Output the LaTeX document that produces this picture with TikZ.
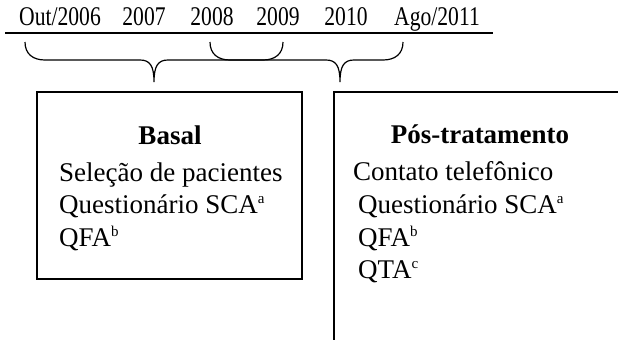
\documentclass[tikz,border=0pt]{standalone}
\usepackage{fontspec}
\setmainfont{Liberation Serif}
\newfontfamily\yearFont[FakeStretch=0.8]{Liberation Serif}
\usetikzlibrary{positioning}
\newcommand{\yearLabel}[3]{%%
  \node[yearStyle] (#1) at (#2,25) {#3};
}
\newcommand{\myBrace}[3]{%%
  %% Draw one curly brace under the time line.
  \draw[lineStyle] (#1,42) .. controls (#1,54) and (#1+8,60) .. (#1+20,60)
    -- (#2-14,60) .. controls (#2-4,60) and (#2,66) .. (#2,82)
    .. controls (#2,66) and (#2+4,60) .. (#2+14,60)
    -- (#3-20,60) .. controls (#3-8,60) and (#3,54) .. (#3,42);
}
\newcommand{\itemLine}[4]{%%
  \node[itemStyle] (#1) at (#2,#3) {#4};
}
\newcommand{\noteMark}[1]{%%
  \raisebox{10pt}{\fontsize{15}{15}\selectfont #1}%%
}

\begin{document}
\begin{tikzpicture}[x=1pt,y=-1pt,%%
  lineStyle/.style={-,line width=1.2pt,black},%%
  yearStyle/.style={anchor=base,inner sep=0pt,font=\fontsize{27}{30}\yearFont},%%
  itemStyle/.style={anchor=base west,inner sep=0pt,font=\fontsize{27}{30}\selectfont},%%
  titleStyle/.style={anchor=base,inner sep=0pt,font=\fontsize{27}{30}\selectfont\bfseries}
]
\useasboundingbox (0,0) rectangle (618,340);
%%
%% The time line with its years.
\coordinate (lineStart) at (5,33);
\coordinate (lineEnd) at (493,33);
\draw[lineStyle] (lineStart) -- (lineEnd);
\yearLabel{y2006}{60}{Out/2006}
\yearLabel{y2007}{144}{2007}
\yearLabel{y2008}{212}{2008}
\yearLabel{y2009}{278}{2009}
\yearLabel{y2010}{346}{2010}
\yearLabel{y2011}{437}{Ago/2011}
%%
%% Braces for the two periods.
\myBrace{25}{154}{283}
\myBrace{210}{340}{403}
%%
%% Baseline box.
\draw[lineStyle] (37,92) rectangle (302,279);
\node[titleStyle] (basal) at (170,144) {Basal};
\itemLine{selecao}{59}{181}{Seleção de pacientes}
\itemLine{scaBasal}{59}{213}{Questionário SCA\noteMark{a}}
\itemLine{qfaBasal}{59}{246}{QFA\noteMark{b}}
%%
%% Follow-up box, open to the right and below.
\draw[lineStyle] (618,92) -- (334,92) -- (334,340);
\node[titleStyle] (pos) at (480,143) {Pós-tratamento};
\itemLine{contato}{353}{180}{Contato telefônico}
\itemLine{scaPos}{358}{213}{Questionário SCA\noteMark{a}}
\itemLine{qfaPos}{358}{246}{QFA\noteMark{b}}
\itemLine{qtaPos}{358}{278}{QTA\noteMark{c}}
\end{tikzpicture}
\end{document}
